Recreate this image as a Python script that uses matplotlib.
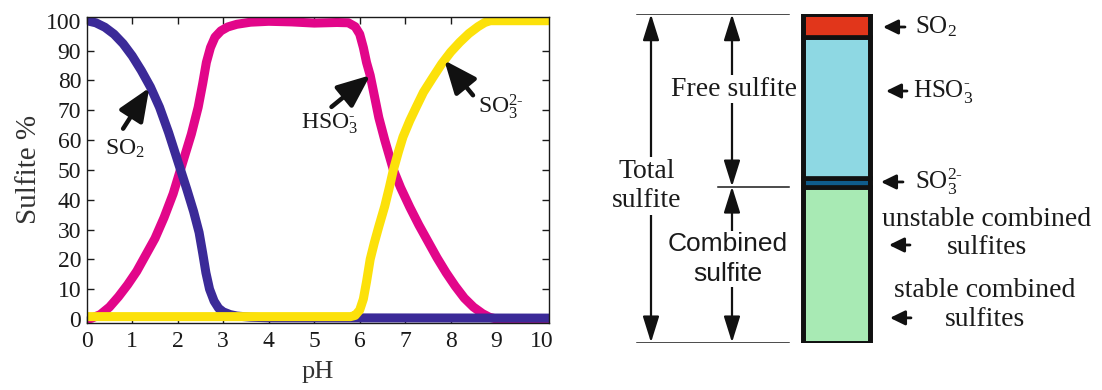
import numpy as np
import matplotlib
matplotlib.use('Agg')
import matplotlib.pyplot as plt

plt.rcParams['font.family'] = ['Liberation Serif', 'DejaVu Serif']
plt.rcParams['mathtext.fontset'] = 'custom'
plt.rcParams['mathtext.rm'] = 'Liberation Serif'
plt.rcParams['mathtext.it'] = 'Liberation Serif:italic'

# speciation curves (pH, % of sulfite)
so2_ph = [0.0, 0.2, 0.4, 0.6, 0.8, 1.0, 1.2, 1.4, 1.6, 1.8, 2.0, 2.2, 2.35, 2.47, 2.55, 2.62, 2.7, 2.8, 2.9, 3.0, 3.15, 3.3, 3.6, 4.0, 10.2]
so2_pct = [100, 99.3, 97.8, 95.5, 92.3, 88.2, 83.3, 77.8, 71, 62.5, 53, 43.5, 36, 29, 22, 15.5, 10, 6, 3.6, 2.4, 1.5, 1.0, 0.6, 0.4, 0.3]

hso3_ph = [0.0, 0.1, 0.3, 0.5, 0.7, 0.9, 1.1, 1.3, 1.5, 1.7, 1.9, 2.1, 2.3, 2.45, 2.55, 2.63, 2.72, 2.82, 2.95, 3.1, 3.3, 3.6, 4.0, 4.5, 5.0, 5.5, 5.75, 5.9, 6.0, 6.08, 6.15, 6.23, 6.32, 6.42, 6.55, 6.74, 6.9, 7.1, 7.3, 7.5, 7.7, 7.9, 8.1, 8.3, 8.5, 8.7, 8.85, 9.0, 10.2]
hso3_pct = [0, 0.2, 1.5, 4, 7.5, 11.5, 16, 21.5, 27, 34, 42, 52, 62, 71, 79, 86, 91, 94.5, 96.6, 97.9, 98.8, 99.5, 99.8, 99.6, 99.2, 99.4, 99.3, 98, 95.5, 91, 86, 81.7, 75, 67.5, 60, 50, 44, 37.5, 31.5, 26, 20.5, 15.5, 11, 7, 4, 1.8, 0.6, 0, 0]

so3_ph = [0.0, 3.0, 5.8, 5.9, 6.0, 6.08, 6.15, 6.23, 6.32, 6.42, 6.55, 6.65, 6.74, 6.85, 6.95, 7.1, 7.25, 7.4, 7.6, 7.8, 8.0, 8.2, 8.4, 8.6, 8.75, 8.87, 10.2]
so3_pct = [0.8, 0.8, 0.8, 1.2, 3, 6.7, 12.5, 20, 25.5, 31, 37.8, 44, 50, 56, 61, 66.5, 71.3, 76, 80.8, 85.5, 89.5, 92.8, 95.7, 98, 99.4, 100, 100]

ph_ticks = list(range(0, 11))
pct_ticks = list(range(0, 101, 10))

# sulfite forms in the wine, stacked from the bottom (% of the column)
bar_labels = ['combined', 'SO3 2-', 'HSO3-', 'SO2']
bar_shares = [47.5, 2.5, 43.0, 7.0]
bar_colors = ['#a8eab4', '#0f5c8c', '#8ed8e3', '#e1361b']

SO2 = 'SO$_2$'
HSO3 = 'HSO$_3^{\\text{-}}$'
SO3 = 'SO$_3^{2\\text{-}}$'

ink = '#1a1a1a'

fig = plt.figure(figsize=(11.02, 3.9), dpi=100)

# ---- left: distribution vs pH
ax = fig.add_axes([86.7/1102, 1-323/390, (549-86.7)/1102, (323-16.7)/390])
ax.plot(hso3_ph, hso3_pct, color='#e2068a', lw=6.5, solid_joinstyle='round')
ax.plot(so2_ph, so2_pct, color='#3b2a98', lw=6.5, solid_joinstyle='round')
ax.plot(so3_ph, so3_pct, color='#fce10a', lw=6.5, solid_joinstyle='round')

ax.set_xlim(0, 10.16)
ax.set_ylim(-1.34, 101.34)
ax.set_xticks(ph_ticks)
ax.set_yticks(pct_ticks)
ax.tick_params(direction='in', length=5, width=1, top=True, right=True,
               labelsize=17, colors=ink)
ax.tick_params(axis='x', pad=6)
ax.tick_params(axis='y', pad=4)
for s in ax.spines.values():
    s.set_linewidth(1.0)
    s.set_color(ink)
ax.set_xlabel('pH', fontsize=19, color='#333333', labelpad=6)
ax.set_ylabel('Sulfite %', fontsize=21, color='#333333', labelpad=3)

big_arrow = dict(arrowstyle='-|>,head_length=1.0,head_width=0.42', mutation_scale=20,
                 lw=3.2, color='#111111', shrinkA=0, shrinkB=0)
ax.annotate('', xy=(1.376, 77.5), xytext=(0.80, 63.8), arrowprops=big_arrow)
ax.text(0.84, 57, SO2, ha='center', va='center', fontsize=17, color=ink)
ax.annotate('', xy=(6.23, 81.7), xytext=(5.38, 71.1), arrowprops=big_arrow)
ax.text(5.34, 65.6, HSO3, ha='center', va='center', fontsize=17, color=ink)
ax.annotate('', xy=(7.86, 86.7), xytext=(8.49, 75.0), arrowprops=big_arrow)
ax.text(9.1, 71.1, SO3, ha='center', va='center', fontsize=17, color=ink)

# ---- right: composition column
ax2 = fig.add_axes([551/1102, 1-342.5/390, 551/1102, (342.5-14.2)/390])
ax2.set_xlim(551, 1102)
ax2.set_ylim(0, 100)
ax2.axis('off')

bottoms = np.concatenate([[0], np.cumsum(bar_shares)[:-1]])
ax2.bar(836.7, bar_shares, width=67, bottom=bottoms, color=bar_colors,
        edgecolor='#111111', linewidth=3.4)
ax2.bar(836.7, sum(bar_shares), width=67, fill=False, edgecolor='#111111', linewidth=3.4)

split = bar_shares[0]
ax2.plot([637, 789], [100, 100], color=ink, lw=1.1)
ax2.plot([637, 789], [0, 0], color=ink, lw=1.1)
ax2.plot([718, 789], [split, split], color=ink, lw=1.1)

dbl = dict(arrowstyle='<|-|>,head_length=0.8,head_width=0.25', mutation_scale=20,
           lw=1.6, color='#111111', shrinkA=0, shrinkB=0)
ax2.annotate('', xy=(651, 100), xytext=(651, 0), arrowprops=dbl)
ax2.annotate('', xy=(732, 100), xytext=(732, split), arrowprops=dbl)
ax2.annotate('', xy=(732, split), xytext=(732, 0), arrowprops=dbl)

white = dict(facecolor='white', edgecolor='none', pad=1)
ax2.text(734, 77.2, 'Free sulfite', ha='center', va='center', fontsize=20,
         color=ink, bbox=white)
ax2.text(647, 47.7, 'Total\nsulfite', ha='center', va='center', fontsize=20,
         color=ink, linespacing=1.25, bbox=white)
ax2.text(728, 25.4, 'Combined\nsulfite', ha='center', va='center', fontsize=19,
         family='Liberation Sans', color=ink, linespacing=1.3, bbox=white)

small = dict(arrowstyle='-|>,head_length=0.45,head_width=0.22', mutation_scale=20,
             lw=2.0, color='#111111', shrinkA=0, shrinkB=0)
# labels for the column
ax2.annotate('', xy=(883, 96.1), xytext=(905, 96.1), arrowprops=small)
ax2.text(915, 96.1, SO2, ha='left', va='center', fontsize=18, color=ink)
ax2.annotate('', xy=(886, 76.6), xytext=(907, 76.6), arrowprops=small)
ax2.text(913, 76.6, HSO3, ha='left', va='center', fontsize=18, color=ink)
ax2.annotate('', xy=(881, 48.9), xytext=(903, 48.9), arrowprops=small)
ax2.text(915, 48.9, SO3, ha='left', va='center', fontsize=18, color=ink)

ax2.annotate('', xy=(889, 29.7), xytext=(910, 29.7), arrowprops=small)
ax2.text(986.7, 33.2, 'unstable combined\nsulfites', ha='center', va='center',
         fontsize=20, color=ink, linespacing=1.2)
ax2.annotate('', xy=(890, 7.5), xytext=(911, 7.5), arrowprops=small)
ax2.text(985, 11.5, 'stable combined\nsulfites', ha='center', va='center',
         fontsize=20, color=ink, linespacing=1.2)

fig.savefig('out.png', dpi=100)
